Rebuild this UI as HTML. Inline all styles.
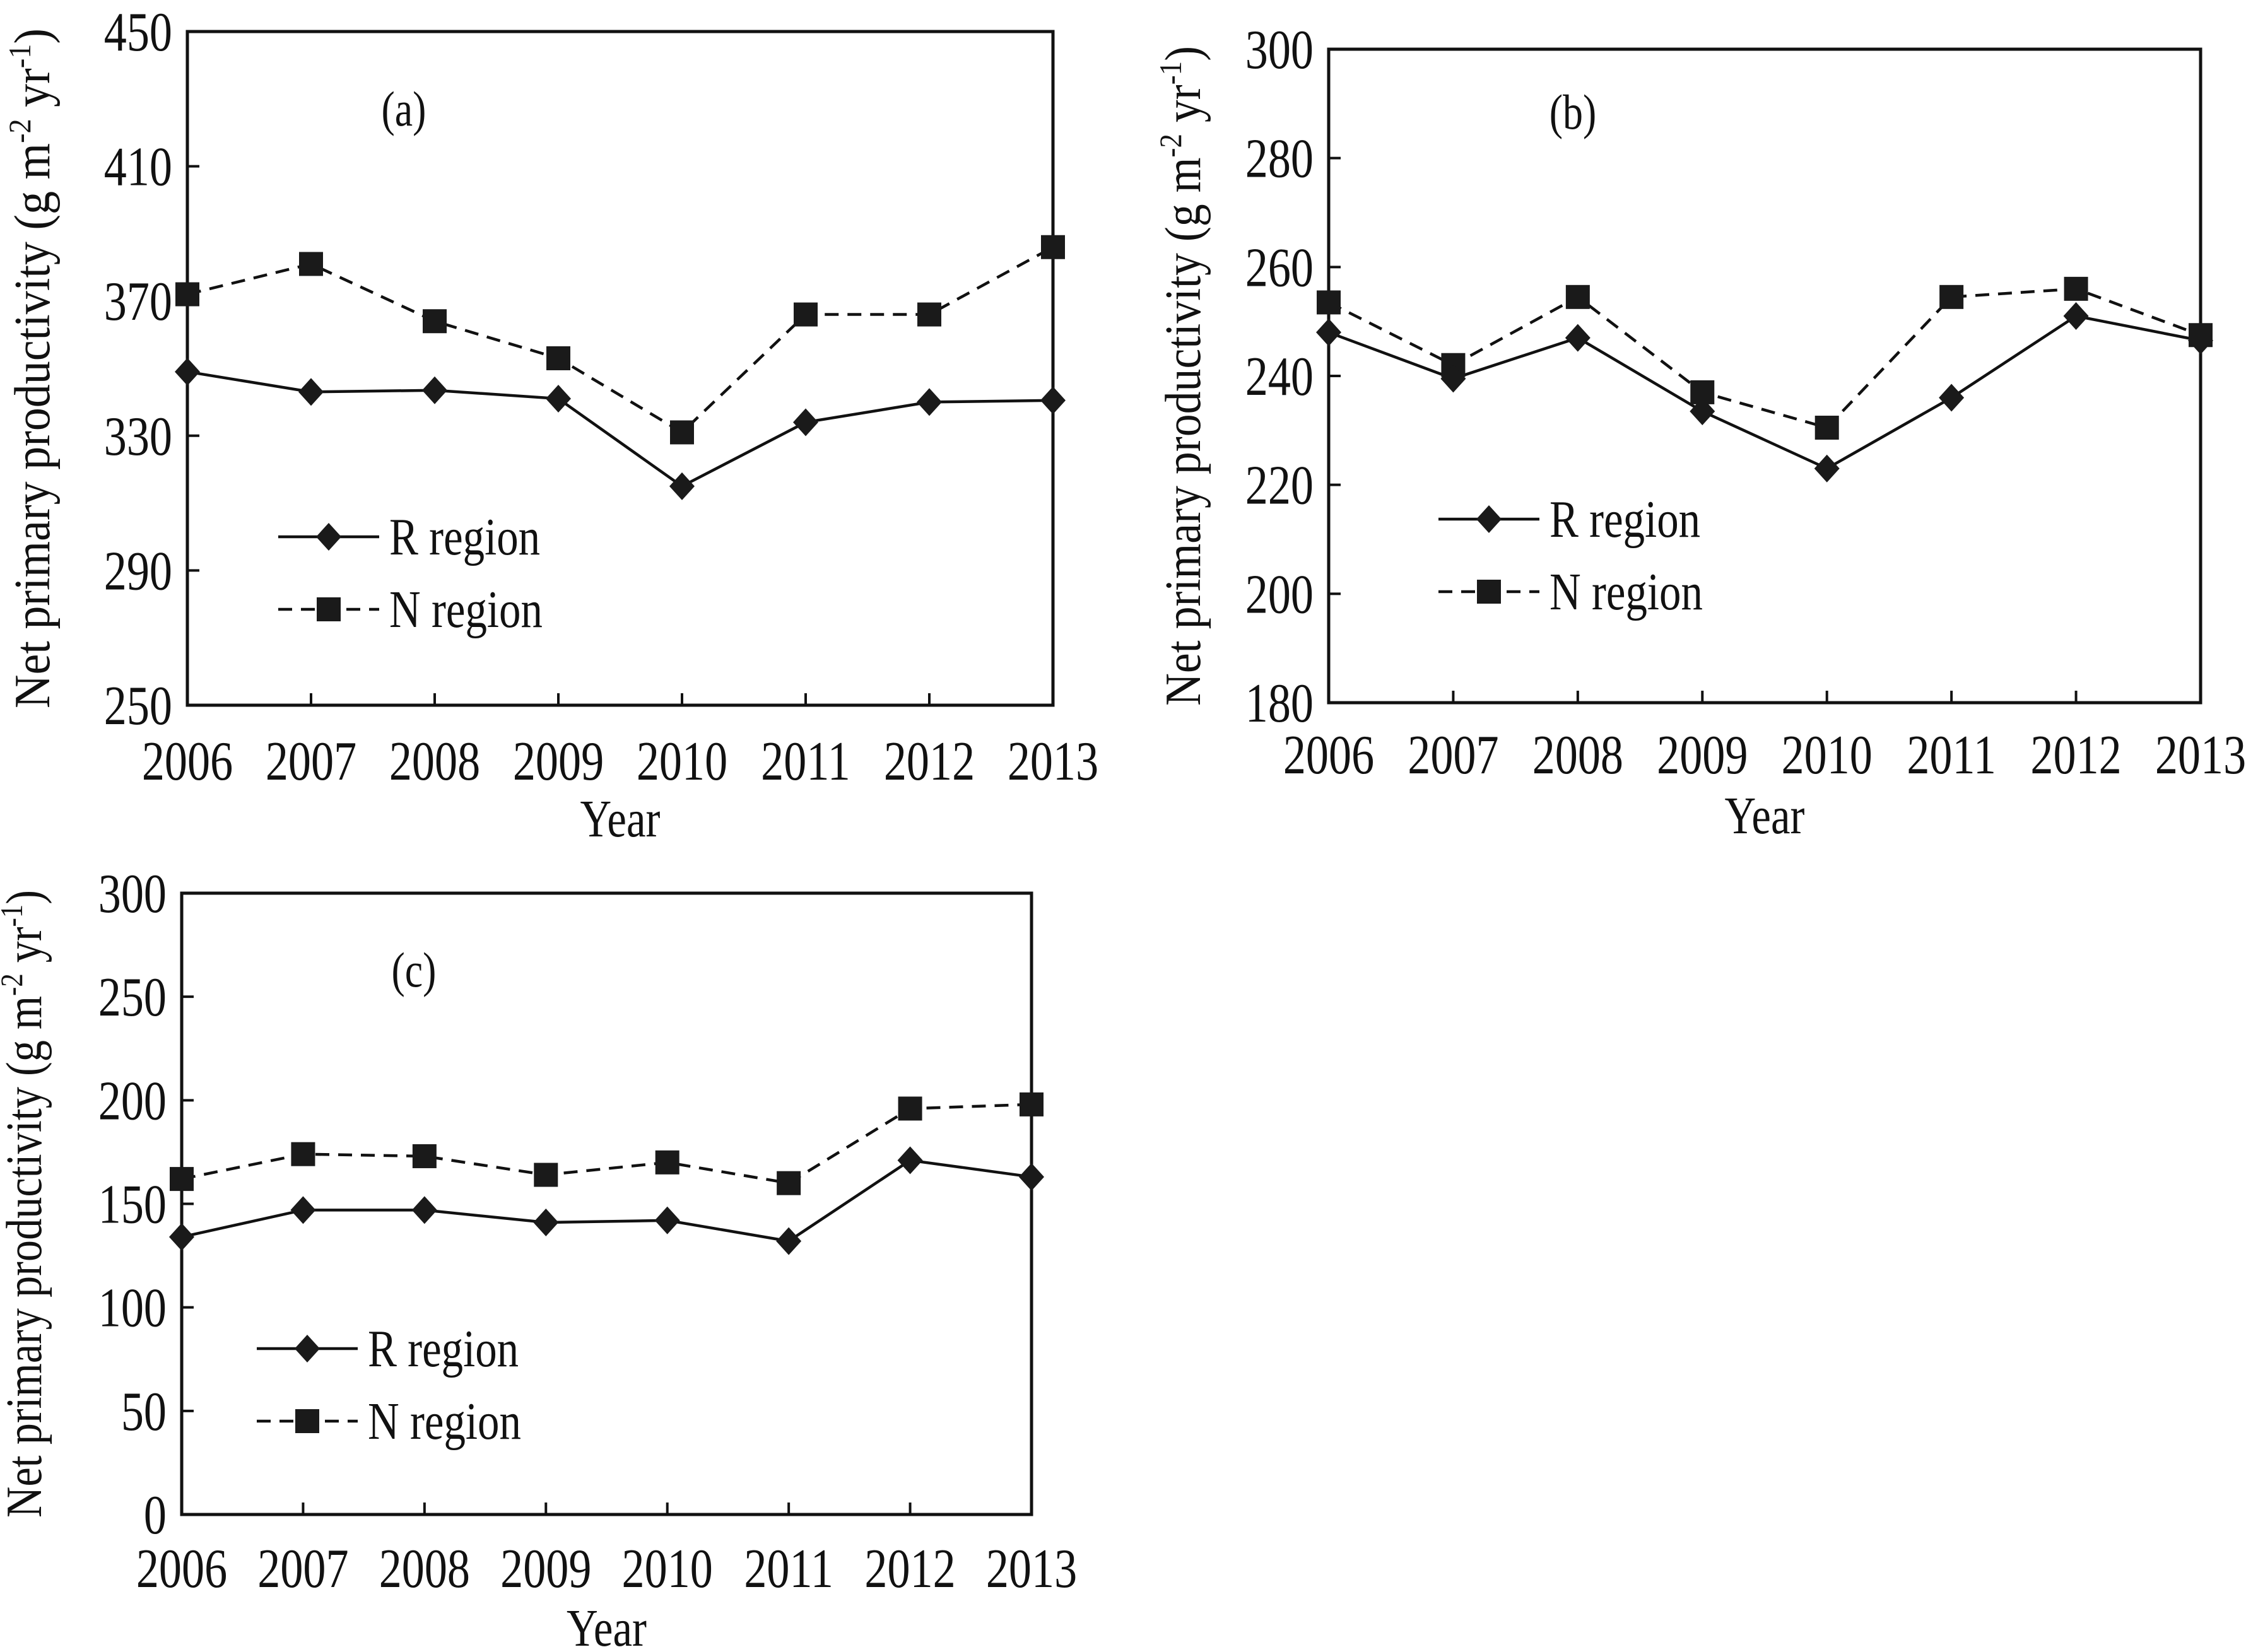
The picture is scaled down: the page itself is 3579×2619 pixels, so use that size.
<!DOCTYPE html>
<html><head><meta charset="utf-8"><style>
html,body{margin:0;padding:0;background:#fff}
svg{display:block}
text{font-family:"Liberation Serif",serif;fill:#111}
</style></head><body>
<svg id="fig" width="3579" height="2619" viewBox="0 0 3579 2619" xmlns="http://www.w3.org/2000/svg"></svg>
<script>
const years = [2006,2007,2008,2009,2010,2011,2012,2013];
const rA = [349,343,343.5,341,315,334,340,340.5];
const nA = [372,381,364,353,331,366,366,386];
const ticksA = [250,290,330,370,410,450];
const rB = [248,239.5,247,233.5,223,236,251,246.5];
const nB = [253.5,242,254.5,237,230.5,254.5,256,247.5];
const ticksB = [180,200,220,240,260,280,300];
const rC = [134,147,147,141,142,132,171,163];
const nC = [162,174,173,164,170,160,196,198];
const ticksC = [0,50,100,150,200,250,300];

const NS='http://www.w3.org/2000/svg';
const svg=document.getElementById('fig');
function mk(tag,attrs,parent,txt){const e=document.createElementNS(NS,tag);for(const k in attrs)e.setAttribute(k,attrs[k]);if(txt!==undefined)e.textContent=txt;(parent||svg).appendChild(e);return e;}
function ctext(x,y,size,anchor,sx,parent,txt){
  return mk('text',{x:0,y:0,'text-anchor':anchor,'font-size':size,transform:`translate(${x},${y}) scale(${sx},1)`},parent,txt);
}

function panel(id,L,R,T,B,ticks,rv,nv,lab,labX,labY,legX,legY,ylabX,xlabY,yearY){
  const g=mk('g',{});
  
  
  const ymin=ticks[0],ymax=ticks[ticks.length-1];
  const y=v=>B-(v-ymin)/(ymax-ymin)*(B-T);
  const x=i=>L+i*(R-L)/(years.length-1);
  const fr=mk('rect',{x:L,y:T,width:R-L,height:B-T,fill:'none',stroke:'#111','stroke-width':5},g);
  
  
  ticks.forEach(t=>{
    if(t!==ymin&&t!==ymax){const tk=mk('line',{x1:L,x2:L+19,y1:y(t),y2:y(t),stroke:'#111','stroke-width':4},g);
    
    }
    const tl=ctext(L-24,y(t)+30,88,'end',0.82,g,String(t));
    
    
  });
  years.forEach((yr,i)=>{
    if(i>0&&i<years.length-1){const tk=mk('line',{x1:x(i),x2:x(i),y1:B,y2:B-19,stroke:'#111','stroke-width':4},g);
    
    }
    const tl=ctext(x(i),xlabY+6,88,'middle',0.82,g,String(yr));
    
    
  });
  const xt=ctext((L+R)/2,yearY+6,84,'middle',0.82,g,'Year');
  
  
  const yt=mk('text',{x:0,y:0,'text-anchor':'middle','font-size':80,transform:`translate(${ylabX+8},${(T+B)/2}) rotate(-90)`,textLength:B-T+10,lengthAdjust:'spacingAndGlyphs'},g);
  
  
  yt.innerHTML='Net primary productivity (g m<tspan dy="-30" font-size="50">-2</tspan><tspan dy="30"> yr</tspan><tspan dy="-30" font-size="50">-1</tspan><tspan dy="30">)</tspan>';
  const pl=ctext(labX,labY+4,78,'middle',0.82,g,lab);
  
  
  const np=mk('polyline',{points:nv.map((v,i)=>x(i)+','+y(v)).join(' '),fill:'none',stroke:'#111','stroke-width':4.5,'stroke-dasharray':'22,14'},g);
  
  
  const rp=mk('polyline',{points:rv.map((v,i)=>x(i)+','+y(v)).join(' '),fill:'none',stroke:'#111','stroke-width':4.5},g);
  
  
  nv.forEach((v,i)=>{const s=mk('rect',{x:x(i)-19,y:y(v)-19,width:38,height:38,fill:'#1a1a1a'},g);
    
    });
  rv.forEach((v,i)=>{const d=mk('polygon',{points:`${x(i)},${y(v)-22} ${x(i)+20},${y(v)} ${x(i)},${y(v)+22} ${x(i)-20},${y(v)}`,fill:'#1a1a1a'},g);
    
    });
  const lg=mk('g',{},g);
  
  
  const l1=mk('line',{x1:legX,x2:legX+160,y1:legY,y2:legY,stroke:'#111','stroke-width':4.5},lg);
  
  
  const m1=mk('polygon',{points:`${legX+80},${legY-22} ${legX+100},${legY} ${legX+80},${legY+22} ${legX+60},${legY}`,fill:'#1a1a1a'},lg);
  
  
  const t1=ctext(legX+176,legY+28,84,'start',0.82,lg,'R region');
  
  
  const ly=legY+115;
  const l2=mk('line',{x1:legX,x2:legX+160,y1:ly,y2:ly,stroke:'#111','stroke-width':4.5,'stroke-dasharray':'22,14'},lg);
  
  
  const m2=mk('rect',{x:legX+61,y:ly-19,width:38,height:38,fill:'#1a1a1a'},lg);
  
  
  const t2=ctext(legX+176,ly+28,84,'start',0.82,lg,'N region');
  
  
}
panel('a',297,1669,50,1118,ticksA,rA,nA,'(a)',640,195,441,851,70,1230,1320);
panel('b',2106,3488,78,1114,ticksB,rB,nB,'(b)',2493,200,2280,823,1894,1220,1315);
panel('c',288,1635,1416,2401,ticksC,rC,nC,'(c)',656,1560,407,2138,57,2510,2603);
</script>
</body></html>
